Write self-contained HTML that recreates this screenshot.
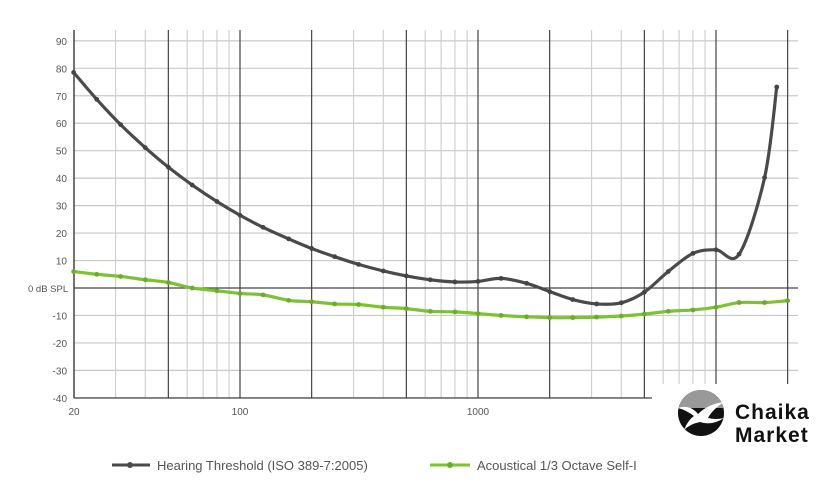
<!DOCTYPE html>
<html><head><meta charset="utf-8"><style>
html,body{margin:0;padding:0;background:#fff;width:840px;height:499px;overflow:hidden}
svg{display:block;font-family:"Liberation Sans",sans-serif}
</style></head><body>
<svg id="s" width="840" height="499" viewBox="0 0 840 499" xmlns="http://www.w3.org/2000/svg">
<g id="grid"></g>
<g id="series"></g>
<rect x="648" y="384" width="192" height="115" fill="#fff"/>
<line x1="74" y1="398" x2="652" y2="398" stroke="#444" stroke-width="1.2"/>
<text x="74" y="415" font-size="10" fill="#555" text-anchor="middle">20</text>
<text x="240" y="415" font-size="10" fill="#555" text-anchor="middle">100</text>
<text x="478" y="415" font-size="10" fill="#555" text-anchor="middle">1000</text>
<g id="ylab" font-size="10" fill="#555" text-anchor="end"></g>
<text x="28" y="292" font-size="9.5" fill="#555">0 dB SPL</text>
<line x1="112" y1="465" x2="150" y2="465" stroke="#4a4a4a" stroke-width="3"/>
<circle cx="130" cy="465" r="3" fill="#4a4a4a"/>
<text x="157" y="470" font-size="13" fill="#555">Hearing Threshold (ISO 389-7:2005)</text>
<line x1="430" y1="465" x2="470" y2="465" stroke="#7cc232" stroke-width="3"/>
<circle cx="450" cy="465" r="3" fill="#6aae28"/>
<text x="477" y="470" font-size="13" fill="#555">Acoustical 1/3 Octave Self-I</text>
<clipPath id="cc"><circle cx="701" cy="413" r="23"/></clipPath>
<g clip-path="url(#cc)">
<rect x="676" y="388" width="50" height="50" fill="#111"/>
<rect x="676" y="388" width="50" height="20" fill="#999"/>
<path d="M678 408 Q690 404 698 414 Q708 404 724 402 Q712 410 708 418 Q716 420 724 418 Q712 426 700 422 Q690 424 684 430 Q688 420 694 416 Q686 410 678 408Z" fill="#fff"/>
</g>
<text x="735" y="419" font-size="21" font-weight="bold" fill="#111" letter-spacing="1">Chaika</text>
<text x="735" y="442" font-size="21" font-weight="bold" fill="#111" letter-spacing="1">Market</text>
</svg>
<script>
const NS="http://www.w3.org/2000/svg";
const X=f=>478+238*Math.log10(f/1000);
const Y=v=>288-v*2.746;
function el(p,t,a){const e=document.createElementNS(NS,t);for(const k in a)e.setAttribute(k,a[k]);p.appendChild(e);return e;}
const g=document.getElementById('grid');
for(let v=-40;v<=90;v+=10){ if(v===0)continue;
 el(g,'line',{x1:74,y1:Y(v),x2:798,y2:Y(v),stroke:'#c8c8c8','stroke-width':1.2});
 if(v!==0)el(document.getElementById('ylab'),'text',{x:67,y:Y(v)+4}).textContent=v;}
const dark=[50,100,200,500,1000,2000,5000,10000,20000];
const light=[30,40,60,70,80,90,300,400,600,700,800,900,3000,4000,6000,7000,8000,9000];
light.forEach(f=>el(g,'line',{x1:X(f),y1:30,x2:X(f),y2:398,stroke:'#d0d0d0','stroke-width':1.2}));
dark.forEach(f=>el(g,'line',{x1:X(f),y1:30,x2:X(f),y2:398,stroke:'#444','stroke-width':1.2}));
el(g,'line',{x1:74,y1:30,x2:74,y2:398,stroke:'#444','stroke-width':1.5});
el(g,'line',{x1:74,y1:288,x2:798,y2:288,stroke:'#444','stroke-width':1.2});
const fr=[20,25,31.5,40,50,63,80,100,125,160,200,250,315,400,500,630,800,1000,1250,1600,2000,2500,3150,4000,5000,6300,8000,10000,12500,16000];
const h=[78.5,68.7,59.5,51.1,44,37.5,31.5,26.5,22.1,17.9,14.4,11.4,8.6,6.2,4.4,3.0,2.2,2.4,3.5,1.7,-1.3,-4.2,-5.8,-5.4,-1.5,6.0,12.6,13.9,12.3,40.2];
const hp=fr.map((f,i)=>[X(f),Y(h[i])]);hp.push([X(18000),Y(73.2)]);
const gv=[6,5,4.2,3,2,0,-1,-2,-2.5,-4.5,-5,-5.8,-6,-7,-7.5,-8.5,-8.7,-9.3,-10,-10.5,-10.8,-10.8,-10.6,-10.2,-9.5,-8.5,-8,-7,-5.3,-5.3];
const gp=fr.map((f,i)=>[X(f),Y(gv[i])]);gp.push([X(20000),Y(-4.6)]);
function path(p){let d=`M${p[0][0]},${p[0][1]}`;for(let i=0;i<p.length-1;i++){const a=p[i-1]||p[i],b=p[i],c=p[i+1],e=p[i+2]||c;
 d+=` C${b[0]+(c[0]-a[0])/6},${b[1]+(c[1]-a[1])/6} ${c[0]-(e[0]-b[0])/6},${c[1]-(e[1]-b[1])/6} ${c[0]},${c[1]}`;}return d;}
const s=document.getElementById('series');
el(s,'path',{d:path(gp),fill:'none',stroke:'#7cc232','stroke-width':3.2});
gp.forEach(p=>el(s,'circle',{cx:p[0],cy:p[1],r:2.4,fill:'#6aae28'}));
el(s,'path',{d:path(hp),fill:'none',stroke:'#4a4a4a','stroke-width':3.2});
hp.forEach(p=>el(s,'circle',{cx:p[0],cy:p[1],r:2.4,fill:'#444'}));
</script>
</body></html>
